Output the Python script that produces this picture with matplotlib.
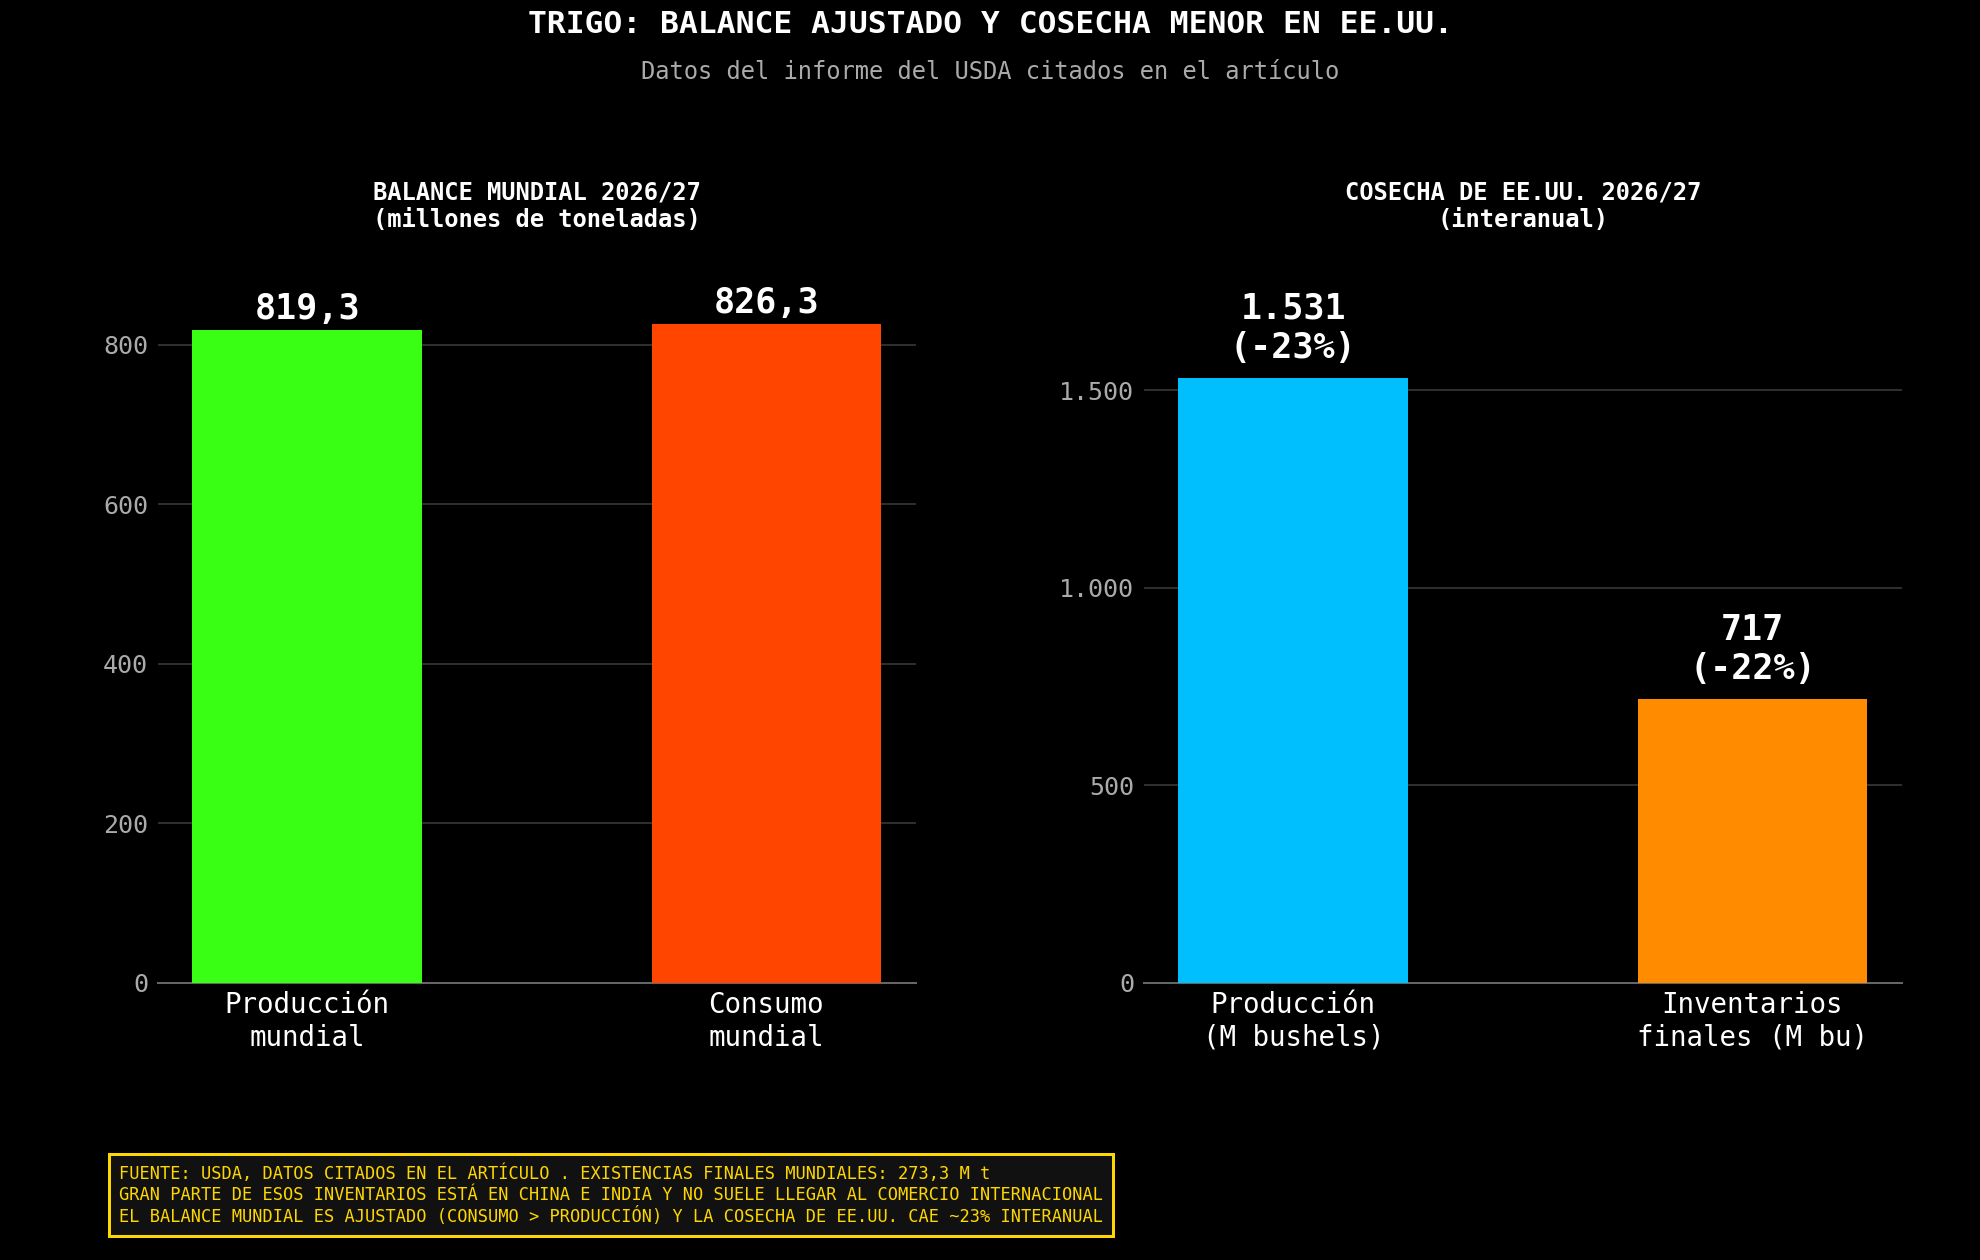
import matplotlib
matplotlib.use("Agg")
import matplotlib.pyplot as plt
from matplotlib.ticker import FuncFormatter

plt.rcParams['font.family'] = ['DejaVu Sans Mono', 'DejaVu Sans']

# ---- data ----
title = "TRIGO: BALANCE AJUSTADO Y COSECHA MENOR EN EE.UU."
subtitle = "Datos del informe del USDA citados en el artículo"

left_title = "BALANCE MUNDIAL 2026/27\n(millones de toneladas)"
left_categories = ["Producción\nmundial", "Consumo\nmundial"]
left_values = [819.3, 826.3]
left_labels = ["819,3", "826,3"]
left_colors = ["#39FF14", "#FF4500"]
left_ticks = [0, 200, 400, 600, 800]

right_title = "COSECHA DE EE.UU. 2026/27\n(interanual)"
right_categories = ["Producción\n(M bushels)", "Inventarios\nfinales (M bu)"]
right_values = [1531, 717]
right_labels = ["1.531\n(-23%)", "717\n(-22%)"]
right_colors = ["#00BFFF", "#FF8C00"]
right_ticks = [0, 500, 1000, 1500]

footer_lines = [
    "FUENTE: USDA, DATOS CITADOS EN EL ARTÍCULO . EXISTENCIAS FINALES MUNDIALES: 273,3 M t",
    "GRAN PARTE DE ESOS INVENTARIOS ESTÁ EN CHINA E INDIA Y NO SUELE LLEGAR AL COMERCIO INTERNACIONAL",
    "EL BALANCE MUNDIAL ES AJUSTADO (CONSUMO > PRODUCCIÓN) Y LA COSECHA DE EE.UU. CAE ~23% INTERANUAL",
]

fig = plt.figure(figsize=(11, 7), dpi=180, facecolor='black')

def thousands(x, pos):
    return f"{int(round(x)):,}".replace(",", ".")

def draw(ax, cats, vals, labels, colors, ticks, ttl, top_factor, offset):
    ax.set_facecolor('black')
    x = list(range(len(cats)))
    ax.bar(x, vals, width=0.5, color=colors, zorder=3)
    ax.set_ylim(0, max(vals) * top_factor)
    ax.set_yticks(ticks)
    ax.yaxis.set_major_formatter(FuncFormatter(thousands))
    ax.set_xticks(x)
    ax.set_xticklabels(cats, color='white', fontsize=11)
    ax.tick_params(axis='y', colors='#aaaaaa', labelsize=10, length=0, pad=4)
    ax.tick_params(axis='x', length=0, pad=3.5)
    ax.grid(axis='y', color='#2e2e2e', linewidth=0.8, zorder=0)
    ax.set_axisbelow(True)
    for s in ['top', 'right', 'left']:
        ax.spines[s].set_visible(False)
    ax.spines['bottom'].set_color('#666666')
    ax.spines['bottom'].set_linewidth(0.8)
    ax.set_title(ttl, color='white', fontsize=9.5, fontweight='bold', pad=7)
    for xi, v, lab in zip(x, vals, labels):
        ax.text(xi, v + offset, lab, ha='center', va='bottom', color='white',
                fontsize=14, fontweight='bold', zorder=4)

ax1 = fig.add_axes([0.0798, 0.2201, 0.3826, 0.5855])
ax2 = fig.add_axes([0.5778, 0.2201, 0.3826, 0.5855])
draw(ax1, left_categories, left_values, left_labels, left_colors, left_ticks,
     left_title, 1.12, 5)
draw(ax2, right_categories, right_values, right_labels, right_colors, right_ticks,
     right_title, 1.22, 33)

fig.text(0.5, 0.9805, title, ha='center', va='center', color='white',
         fontsize=12.5, fontweight='bold')
fig.text(0.5, 0.943, subtitle, ha='center', va='center', color='#aaaaaa',
         fontsize=9.5)

fig.text(0.0601, 0.0516, "\n".join(footer_lines), ha='left', va='center',
         color='#FFD700', fontsize=6.8,
         bbox=dict(boxstyle='square,pad=0.6', fc='#111111', ec='#FFD700', lw=1.2))

fig.savefig('out.png', dpi=180, facecolor='black')
